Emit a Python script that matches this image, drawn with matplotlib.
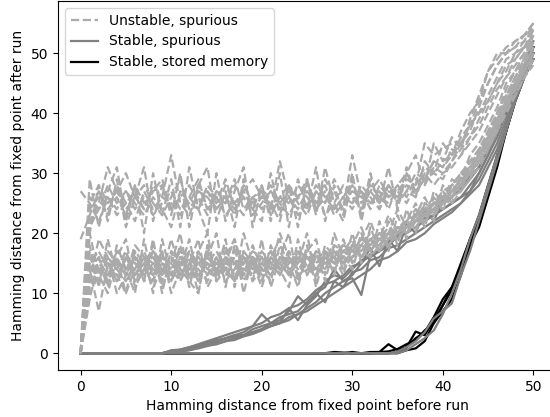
import numpy as np
import matplotlib
matplotlib.use('Agg')
import matplotlib.pyplot as plt
from matplotlib.lines import Line2D

# vzdálenost před během (0..50)
x = np.arange(51)

# nestabilní falešné body - horní pás (~25)
unstable_high = [
    [0, 24, 26, 23, 28, 25, 22, 27, 24, 26, 33, 25, 23, 27, 26, 24, 28, 25, 23, 26,
     27, 24, 32, 26, 24, 27, 25, 28, 24, 26, 25, 27, 24, 28, 26, 27, 29, 28, 31, 30,
     32, 33, 35, 38, 40, 43, 46, 49, 50, 52, 54],
    [27, 25, 22, 26, 24, 27, 25, 23, 26, 24, 21, 27, 25, 24, 28, 26, 23, 25, 27, 24,
     26, 25, 22, 28, 26, 24, 27, 23, 25, 28, 26, 24, 27, 25, 28, 26, 27, 30, 29, 32,
     31, 34, 33, 36, 39, 42, 45, 47, 50, 51, 53],
    [0, 22, 25, 31, 27, 24, 26, 28, 25, 23, 26, 29, 24, 26, 23, 27, 25, 29, 24, 26,
     24, 27, 25, 23, 26, 29, 24, 26, 27, 24, 33, 26, 25, 27, 24, 28, 26, 29, 28, 31,
     30, 32, 35, 37, 41, 45, 48, 50, 51, 53, 55],
    [19, 23, 27, 24, 26, 23, 28, 25, 27, 29, 24, 26, 28, 25, 27, 24, 26, 23, 28, 25,
     27, 24, 26, 28, 25, 23, 27, 25, 29, 26, 24, 27, 25, 26, 28, 25, 27, 26, 30, 28,
     30, 31, 33, 35, 37, 40, 43, 46, 48, 50, 52],
    [0, 26, 24, 28, 25, 27, 24, 26, 23, 25, 27, 24, 26, 29, 24, 26, 25, 28, 26, 24,
     28, 23, 26, 25, 28, 26, 24, 29, 26, 27, 25, 28, 26, 24, 27, 26, 28, 27, 29, 30,
     29, 32, 34, 36, 38, 41, 44, 46, 49, 51, 53],
    [0, 21, 24, 26, 23, 25, 27, 24, 28, 26, 25, 23, 26, 24, 27, 25, 29, 24, 26, 23,
     25, 27, 24, 26, 23, 25, 28, 26, 24, 26, 28, 25, 27, 29, 26, 28, 30, 27, 29, 32,
     31, 33, 36, 38, 40, 42, 45, 48, 49, 51, 54],
    [0, 25, 28, 25, 27, 30, 26, 24, 27, 28, 24, 26, 25, 28, 24, 27, 26, 24, 27, 29,
     26, 28, 25, 27, 26, 28, 25, 27, 23, 25, 27, 26, 28, 26, 25, 27, 25, 28, 35, 33,
     34, 35, 35, 38, 42, 47, 50, 50, 51, 52, 55],
    [0, 29, 21, 27, 31, 22, 28, 20, 30, 23, 29, 21, 31, 24, 20, 30, 22, 27, 31, 21,
     28, 22, 30, 21, 29, 24, 31, 22, 28, 23, 30, 22, 29, 25, 31, 24, 30, 33, 28, 35,
     32, 36, 34, 39, 43, 47, 49, 51, 52, 53, 55],
    [0, 20, 28, 22, 29, 21, 26, 31, 22, 28, 23, 30, 21, 28, 31, 22, 27, 21, 29, 24,
     22, 30, 23, 28, 21, 29, 23, 31, 25, 22, 29, 23, 30, 24, 28, 25, 31, 26, 32, 30,
     35, 33, 37, 40, 42, 45, 48, 50, 52, 53, 54],
]

# nestabilní falešné body - dolní pás (~15)
unstable_low = [
    [0, 14, 7, 15, 12, 16, 13, 15, 11, 14, 16, 13, 15, 12, 17, 14, 13, 16, 12, 15,
     14, 17, 13, 15, 16, 14, 17, 15, 16, 18, 17, 19, 18, 20, 19, 21, 22, 23, 24, 25,
     25, 27, 28, 30, 32, 35, 38, 41, 45, 47, 50],
    [0, 12, 15, 13, 16, 10, 14, 17, 13, 15, 12, 16, 14, 13, 15, 17, 14, 12, 16, 14,
     15, 13, 16, 14, 12, 16, 15, 17, 16, 15, 18, 17, 19, 18, 20, 21, 20, 22, 23, 24,
     26, 27, 29, 31, 33, 36, 39, 42, 44, 47, 49],
    [0, 16, 13, 15, 14, 17, 12, 14, 16, 13, 19, 14, 12, 16, 14, 13, 17, 15, 14, 16,
     13, 15, 14, 17, 15, 13, 16, 14, 17, 16, 16, 18, 17, 19, 20, 19, 21, 22, 24, 23,
     25, 26, 28, 30, 33, 35, 38, 40, 43, 46, 48],
    [0, 11, 14, 12, 15, 13, 16, 12, 14, 17, 13, 15, 16, 14, 12, 15, 16, 13, 15, 17,
     16, 14, 15, 13, 17, 16, 14, 16, 15, 17, 19, 16, 18, 20, 18, 20, 22, 21, 23, 25,
     24, 26, 27, 29, 32, 34, 37, 41, 44, 48, 51],
    [0, 15, 17, 14, 13, 16, 15, 13, 17, 15, 14, 17, 13, 15, 16, 14, 15, 19, 14, 13,
     16, 15, 17, 14, 15, 17, 16, 15, 18, 17, 16, 18, 20, 19, 21, 20, 22, 24, 23, 25,
     27, 28, 30, 32, 34, 37, 40, 43, 45, 48, 52],
    [0, 13, 12, 16, 14, 12, 15, 14, 12, 16, 14, 12, 17, 15, 13, 16, 12, 14, 17, 15,
     12, 16, 14, 16, 13, 15, 17, 16, 14, 16, 17, 16, 19, 17, 19, 21, 20, 23, 22, 24,
     26, 25, 27, 29, 31, 34, 37, 40, 43, 46, 49],
    [0, 17, 14, 13, 17, 15, 13, 16, 15, 12, 17, 15, 14, 16, 15, 12, 14, 16, 13, 16,
     15, 14, 20, 16, 14, 16, 15, 14, 17, 15, 17, 17, 16, 18, 20, 19, 21, 22, 25, 24,
     26, 28, 29, 31, 34, 36, 39, 42, 46, 49, 53],
    [0, 10, 13, 17, 15, 14, 16, 13, 15, 14, 13, 16, 15, 17, 14, 16, 13, 15, 16, 12,
     14, 16, 15, 13, 16, 14, 13, 17, 15, 14, 16, 18, 17, 19, 18, 20, 21, 22, 24, 26,
     25, 27, 29, 30, 33, 35, 38, 41, 44, 47, 50],
    [0, 14, 16, 12, 16, 13, 17, 15, 13, 16, 15, 13, 16, 10, 18, 13, 15, 14, 16, 14,
     17, 15, 13, 16, 14, 15, 16, 15, 14, 17, 18, 17, 19, 17, 19, 21, 21, 22, 24, 23,
     25, 27, 28, 31, 32, 35, 39, 42, 45, 48, 51],
    [0, 15, 12, 14, 13, 15, 14, 16, 14, 13, 16, 14, 13, 15, 16, 15, 14, 12, 15, 16,
     14, 13, 16, 15, 17, 14, 15, 16, 17, 15, 16, 17, 18, 19, 18, 20, 22, 21, 23, 24,
     26, 27, 28, 30, 32, 35, 38, 41, 43, 46, 49],
    [0, 13, 15, 16, 14, 17, 13, 15, 16, 14, 12, 15, 17, 13, 15, 14, 16, 15, 13, 15,
     16, 14, 15, 17, 13, 16, 14, 15, 16, 18, 17, 19, 18, 18, 20, 20, 21, 23, 22, 25,
     26, 28, 30, 31, 34, 36, 39, 43, 46, 49, 52],
    [0, 16, 14, 15, 12, 14, 16, 14, 17, 15, 14, 16, 14, 16, 13, 15, 14, 17, 15, 13,
     15, 17, 14, 15, 16, 15, 13, 16, 15, 16, 18, 17, 19, 20, 19, 21, 20, 22, 23, 25,
     25, 26, 28, 30, 33, 36, 38, 42, 45, 47, 50],
    [0, 18, 11, 19, 13, 10, 17, 12, 19, 11, 15, 20, 12, 10, 18, 13, 19, 11, 17, 12,
     19, 11, 16, 20, 12, 18, 11, 17, 13, 19, 15, 20, 16, 22, 17, 23, 19, 24, 21, 26,
     24, 28, 27, 31, 33, 37, 40, 43, 46, 48, 51],
    [0, 9, 16, 11, 18, 14, 10, 19, 12, 17, 10, 14, 19, 12, 16, 20, 11, 18, 10, 16,
     12, 18, 14, 11, 19, 13, 17, 12, 18, 14, 20, 15, 21, 17, 22, 18, 24, 20, 25, 22,
     27, 25, 30, 29, 34, 35, 39, 42, 44, 47, 50],
    [0, 20, 13, 10, 16, 19, 11, 14, 18, 10, 17, 12, 15, 19, 11, 14, 18, 12, 20, 15,
     11, 16, 19, 13, 15, 20, 12, 18, 16, 13, 18, 21, 17, 19, 23, 20, 22, 25, 21, 27,
     25, 29, 28, 32, 33, 36, 40, 44, 47, 49, 53],
    [0, 12, 19, 16, 10, 13, 18, 16, 10, 19, 13, 18, 11, 17, 20, 12, 16, 19, 13, 18,
     14, 12, 18, 15, 11, 17, 19, 13, 20, 16, 14, 19, 22, 18, 20, 24, 21, 23, 26, 23,
     28, 26, 29, 33, 35, 38, 41, 45, 47, 50, 54],
]

# stabilní falešné body
stable_spurious = [
    [0, 0, 0, 0, 0, 0, 0, 0, 0, 0, 0.5, 0.6, 1, 1.3, 1.5, 2, 2.4, 2.8, 3, 3.5,
     4, 5, 5, 7.5, 5.5, 8, 10, 8.5, 12, 11, 13.5, 14, 15.5, 16, 17.5, 18, 19, 20, 21, 22,
     23, 24, 25, 27, 29, 32, 35, 39, 43, 47, 50],
    [0, 0, 0, 0, 0, 0, 0, 0, 0, 0, 0.2, 0.5, 0.8, 1.2, 1.8, 2.2, 2.5, 3, 3.5, 4.5,
     6.5, 5, 5.5, 7, 9.5, 8, 9.5, 12, 13, 12.5, 14, 15.5, 16, 17, 18, 19.5, 20, 21, 22, 23,
     24, 25, 26, 28, 30, 33, 36, 40, 43, 47, 51],
    [0, 0, 0, 0, 0, 0, 0, 0, 0, 0, 0.3, 0.5, 0.7, 1, 1.5, 1.8, 2.5, 3, 3, 4,
     4.5, 5, 6, 6.5, 7, 8.5, 10, 11, 14, 12, 13, 15, 16.5, 17, 18, 19.5, 21, 22, 22.5, 23,
     24, 25, 26, 27, 30, 33, 37, 40, 44, 48, 50],
    [0, 0, 0, 0, 0, 0, 0, 0, 0, 0, 0.2, 0.3, 0.5, 1, 1.5, 1.5, 2, 2.5, 3, 3.5,
     4, 4.5, 5, 6, 6.5, 7.5, 8.5, 10, 11, 12, 12.5, 9.7, 16.5, 17, 18.5, 20, 21, 22, 23, 24,
     25, 26, 27.5, 29, 31, 34, 37, 41, 45, 48, 52],
    [0, 0, 0, 0, 0, 0, 0, 0, 0, 0, 0.3, 0.6, 1, 1.5, 2, 2.5, 3, 3.5, 4, 4.5,
     5, 6, 6.5, 7.5, 8, 9, 10.5, 11.5, 12, 13, 14.5, 15, 17.5, 14.5, 19, 17, 21.5, 20, 24, 22,
     25.5, 26, 28, 29.5, 31, 34, 37, 40, 44, 47, 50],
    [0, 0, 0, 0, 0, 0, 0, 0, 0, 0, 0.1, 0.3, 0.5, 0.8, 1.2, 1.5, 2, 2.2, 2.8, 3.2,
     3.8, 4.5, 5, 5.5, 6.5, 7, 8, 9, 10, 11, 12, 13, 14, 15.5, 16, 17, 18.5, 19, 20, 21.5,
     22.5, 23.5, 25, 26.5, 28, 31, 34, 38, 42, 46, 49],
    [0, 0, 0, 0, 0, 0, 0, 0, 0, 0, 0, 0, 0, 0, 0, 0, 0, 0, 0, 0,
     0, 0, 0, 0, 0, 0, 0, 0, 0, 0, 0, 0, 0, 0, 0, 0.3, 1, 2, 3.5, 5.8,
     7, 8.3, 13, 17, 22, 27, 32, 37, 42, 46, 49],
    [0, 0, 0, 0, 0, 0, 0, 0, 0, 0, 0, 0, 0, 0, 0, 0, 0, 0, 0, 0,
     0, 0, 0, 0, 0, 0, 0, 0, 0, 0, 0, 0, 0, 0, 0, 0, 0.5, 1.5, 2.5, 3.8,
     6.5, 10, 14, 19, 23, 28, 33, 38, 43, 47, 50],
]

# stabilní uložené paměti
stored_memory = [
    [0, 0, 0, 0, 0, 0, 0, 0, 0, 0, 0, 0, 0, 0, 0, 0, 0, 0, 0, 0,
     0, 0, 0, 0, 0, 0, 0, 0, 0.2, 0.1, 0, 0, 0, 0.2, 1.5, 0.5, 1, 3.6, 3, 5.5,
     8, 11, 14, 18, 22, 27, 32, 37, 42, 46, 50],
    [0, 0, 0, 0, 0, 0, 0, 0, 0, 0, 0, 0, 0, 0, 0, 0, 0, 0, 0, 0,
     0, 0, 0, 0, 0, 0, 0, 0, 0, 0, 0, 0, 0, 0, 0, 0, 0.5, 0.8, 2, 5,
     7, 9, 13, 18, 21, 26, 31, 37, 43, 47, 51],
    [0, 0, 0, 0, 0, 0, 0, 0, 0, 0, 0, 0, 0, 0, 0, 0, 0, 0, 0, 0,
     0, 0, 0, 0, 0, 0, 0, 0, 0, 0, 0.2, 0, 0.2, 0.2, 0.3, 0.7, 1.5, 2.2, 3.8, 5,
     8, 10.5, 14.5, 19, 23, 28, 33, 38, 44, 48, 51],
    [0, 0, 0, 0, 0, 0, 0, 0, 0, 0, 0, 0, 0, 0, 0, 0, 0, 0, 0, 0,
     0, 0, 0, 0, 0, 0, 0, 0, 0, 0, 0, 0, 0, 0, 0, 0.2, 1, 2.5, 3.5, 6,
     9, 11, 15, 19, 22, 27, 32, 37, 42, 46, 49],
]

c_unstable = '#aaaaaa'
c_stable = '#808080'
c_memory = 'black'
lw = 1.6

plt.rcParams['font.size'] = 10
fig = plt.figure(figsize=(5.5, 4.17), dpi=100)
ax = fig.add_axes([58 / 550, 47 / 417, 498 / 550, 369 / 417])

for y in stored_memory:
    ax.plot(x, y, color=c_memory, lw=lw)
for y in stable_spurious:
    ax.plot(x, y, color=c_stable, lw=lw)
for y in unstable_high + unstable_low:
    ax.plot(x, y, color=c_unstable, lw=lw, linestyle='--')

ax.set_xlim(-2.5, 52.5)
ax.set_ylim(-2.8, 58.7)
ax.set_xticks([0, 10, 20, 30, 40, 50])
ax.set_yticks([0, 10, 20, 30, 40, 50])
ax.set_xlabel('Hamming distance from fixed point before run')
ax.set_ylabel('Hamming distance from fixed point after run')

handles = [
    Line2D([], [], color=c_unstable, lw=lw, linestyle='--'),
    Line2D([], [], color=c_stable, lw=lw),
    Line2D([], [], color=c_memory, lw=lw),
]
ax.legend(handles, ['Unstable, spurious', 'Stable, spurious', 'Stable, stored memory'],
          loc='upper left')

fig.savefig('out.png', dpi=100)
